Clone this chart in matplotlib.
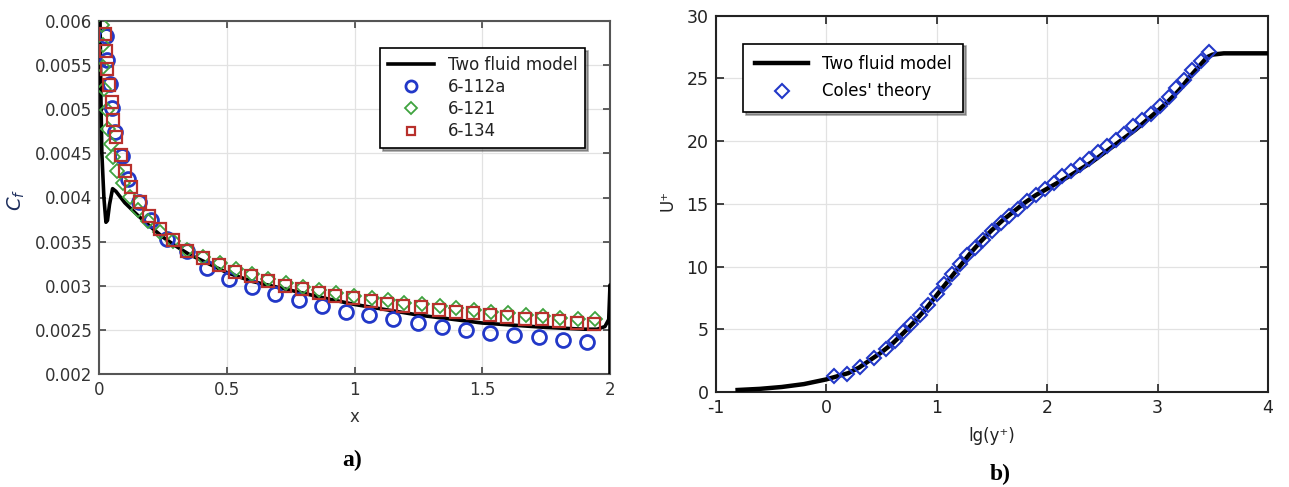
import matplotlib
matplotlib.use("Agg")
import matplotlib.pyplot as plt

# ---------------- panel a) data ----------------
model_a_x = [0.000, 0.003, 0.006, 0.010, 0.018, 0.026, 0.032, 0.040, 0.052, 0.065, 0.10, 0.15, 0.20, 0.25,
             0.30, 0.35, 0.40, 0.50, 0.60, 0.75, 0.90, 1.00, 1.25, 1.50, 1.75, 1.90, 1.95, 1.98, 1.995, 2.000, 2.000]
model_a_y = [0.0062, 0.0060, 0.0052, 0.0045, 0.0040, 0.00372, 0.00374, 0.00392, 0.00410, 0.00407, 0.00394,
             0.00380, 0.00367, 0.00355, 0.00345, 0.00336, 0.00329, 0.00315, 0.00305, 0.00295, 0.00285,
             0.00279, 0.00267, 0.00258, 0.00253, 0.00251, 0.00251, 0.00254, 0.00262, 0.00301, 0.00200]

c112_x = [0.026, 0.031, 0.042, 0.051, 0.061, 0.088, 0.114, 0.157, 0.203, 0.266, 0.343, 0.420, 0.509, 0.598,
          0.687, 0.781, 0.873, 0.966, 1.058, 1.152, 1.247, 1.341, 1.437, 1.532, 1.626, 1.720, 1.815, 1.910]
c112_y = [0.00583, 0.00556, 0.00528, 0.00501, 0.00474, 0.00447, 0.00421, 0.00395, 0.00375, 0.00353, 0.00339,
          0.00320, 0.00308, 0.00299, 0.00291, 0.00284, 0.00277, 0.00271, 0.00267, 0.00262, 0.00258, 0.00254,
          0.00250, 0.00247, 0.00245, 0.00242, 0.00239, 0.00236]

c121_x = [0.009, 0.013, 0.016, 0.020, 0.029, 0.035, 0.045, 0.055, 0.071, 0.094, 0.120, 0.153, 0.192, 0.238,
          0.290, 0.345, 0.408, 0.472, 0.535, 0.598, 0.661, 0.731, 0.797, 0.861, 0.927, 0.997, 1.067, 1.130,
          1.193, 1.263, 1.333, 1.397, 1.467, 1.534, 1.600, 1.670, 1.736, 1.803, 1.873, 1.940]
c121_y = [0.00595, 0.00572, 0.00548, 0.00523, 0.00499, 0.00478, 0.00461, 0.00446, 0.00430, 0.00416, 0.00401,
          0.00386, 0.00373, 0.00361, 0.00351, 0.00341, 0.00333, 0.00326, 0.00319, 0.00313, 0.00308, 0.00303,
          0.00299, 0.00295, 0.00292, 0.00289, 0.00286, 0.00284, 0.00281, 0.00279, 0.00277, 0.00275, 0.00273,
          0.00271, 0.00269, 0.00267, 0.00266, 0.00264, 0.00263, 0.00262]

c134_x = [0.022, 0.026, 0.031, 0.038, 0.049, 0.055, 0.065, 0.084, 0.101, 0.123, 0.159, 0.196, 0.238, 0.290,
          0.343, 0.406, 0.470, 0.533, 0.596, 0.659, 0.729, 0.795, 0.859, 0.925, 0.995, 1.065, 1.128, 1.191,
          1.261, 1.331, 1.395, 1.465, 1.532, 1.598, 1.668, 1.734, 1.801, 1.871, 1.938]
c134_y = [0.00585, 0.00566, 0.00545, 0.00527, 0.00508, 0.00488, 0.00469, 0.00448, 0.00430, 0.00412, 0.00395,
          0.00379, 0.00364, 0.00352, 0.00339, 0.00332, 0.00324, 0.00316, 0.00311, 0.00306, 0.00300, 0.00296,
          0.00292, 0.00289, 0.00286, 0.00283, 0.00280, 0.00277, 0.00276, 0.00273, 0.00271, 0.00269, 0.00267,
          0.00265, 0.00263, 0.00262, 0.00260, 0.00258, 0.00257]

xticks_a = [0, 0.5, 1, 1.5, 2]
xticklabels_a = ["0", "0.5", "1", "1.5", "2"]
yticks_a = [0.002, 0.0025, 0.003, 0.0035, 0.004, 0.0045, 0.005, 0.0055, 0.006]
yticklabels_a = ["0.002", "0.0025", "0.003", "0.0035", "0.004", "0.0045", "0.005", "0.0055", "0.006"]

# ---------------- panel b) data ----------------
model_b_x = [-0.8, -0.6, -0.4, -0.2, 0.0, 0.1, 0.2, 0.3, 0.4, 0.5, 0.6, 0.7, 0.8, 0.9, 1.0, 1.1, 1.2, 1.3,
             1.4, 1.5, 1.6, 1.7, 1.8, 1.9, 2.0, 2.2, 2.4, 2.6, 2.8, 3.0, 3.1, 3.2, 3.3, 3.4, 3.45, 3.5, 3.6,
             3.8, 4.0]
model_b_y = [0.16, 0.25, 0.40, 0.63, 1.0, 1.25, 1.5, 1.95, 2.55, 3.15, 3.85, 4.7, 5.6, 6.6, 7.7, 8.8, 9.9,
             11.0, 12.0, 12.9, 13.7, 14.4, 15.1, 15.7, 16.2, 17.2, 18.3, 19.6, 20.9, 22.4, 23.2, 24.1, 25.2,
             26.2, 26.7, 26.9, 27.0, 27.0, 27.0]

coles_x = [0.07, 0.19, 0.31, 0.43, 0.54, 0.62, 0.70, 0.77, 0.85, 0.92, 1.00, 1.07, 1.14, 1.21, 1.28, 1.35,
           1.42, 1.50, 1.58, 1.66, 1.74, 1.82, 1.90, 1.98, 2.06, 2.14, 2.22, 2.30, 2.38, 2.46, 2.54, 2.62,
           2.70, 2.78, 2.86, 2.94, 3.02, 3.10, 3.17, 3.24, 3.31, 3.39, 3.47]
coles_y = [1.25, 1.45, 2.0, 2.7, 3.4, 4.05, 4.75, 5.4, 6.15, 6.9, 7.8, 8.6, 9.4, 10.2, 10.9, 11.5, 12.1,
           12.8, 13.5, 14.0, 14.6, 15.2, 15.7, 16.2, 16.7, 17.2, 17.6, 18.1, 18.6, 19.1, 19.6, 20.1, 20.6,
           21.2, 21.7, 22.2, 22.8, 23.5, 24.2, 24.9, 25.7, 26.4, 27.1]

xticks_b = [-1, 0, 1, 2, 3, 4]
xticklabels_b = ["-1", "0", "1", "2", "3", "4"]
yticks_b = [0, 5, 10, 15, 20, 25, 30]

plt.rcParams['font.family'] = ['DejaVu Sans']
plt.rcParams['axes.unicode_minus'] = False
W, H = 1289, 487
fig = plt.figure(figsize=(W / 100, H / 100), dpi=100)

def px_axes(l, r, t, b):
    return fig.add_axes([l / W, 1 - b / H, (r - l) / W, (b - t) / H])

tick_col = '#333333'

# ---------------- panel a ----------------
ax1 = px_axes(99.3, 610, 20.7, 374.3)
ax1.plot(model_a_x, model_a_y, color='black', lw=2.6, label='Two fluid model', zorder=3, solid_joinstyle='round')
ax1.plot(c112_x, c112_y, 'o', mfc='none', mec='#2238c8', mew=2.0, ms=10, label='6-112a', zorder=4)
ax1.plot(c121_x, c121_y, 'D', mfc='none', mec='#3fa33f', mew=1.3, ms=7.5, label='6-121', zorder=4)
ax1.plot(c134_x, c134_y, 's', mfc='none', mec='#b8302c', mew=1.6, ms=8, label='6-134', zorder=5)
ax1.set_xlim(0, 2)
ax1.set_ylim(0.002, 0.006)
ax1.set_xticks(xticks_a)
ax1.set_xticklabels(xticklabels_a)
ax1.set_yticks(yticks_a)
ax1.set_yticklabels(yticklabels_a)
ax1.grid(True, color='#e2e2e2', lw=0.9)
ax1.set_axisbelow(True)
ax1.tick_params(direction='in', top=True, right=True, length=5, width=1.2, labelsize=12,
                colors='#444444', labelcolor=tick_col, pad=5)
for s in ax1.spines.values():
    s.set_color('#555555')
    s.set_linewidth(1.5)
ax1.set_xlabel('x', fontsize=12, color=tick_col, labelpad=6)
fig.text(16 / W, 1 - 200 / H, r'$C_f$', rotation=90, ha='center', va='center', fontsize=14, color='#1c2d5c')
leg1 = ax1.legend(loc='upper right', bbox_to_anchor=(0.967, 0.945), fontsize=12, frameon=True,
                  fancybox=False, shadow=True, edgecolor='black', framealpha=1, handlelength=2.8,
                  borderpad=0.45, labelspacing=0.25, handletextpad=0.8, markerscale=0.8)
leg1.get_frame().set_linewidth(1.2)
for t in leg1.get_texts():
    t.set_color('#222222')
fig.text(352 / W, 1 - 460 / H, 'a)', ha='center', va='center', fontsize=17, fontweight='bold',
         family='Liberation Serif')

# ---------------- panel b ----------------
ax2 = px_axes(715.5, 1268, 15.7, 392)
ax2.plot(model_b_x, model_b_y, color='black', lw=3.2, label='Two fluid model', zorder=3)
ax2.plot(coles_x, coles_y, 'D', mfc='none', mec='#2238c8', mew=1.5, ms=7, label="Coles' theory", zorder=4)
ax2.set_xlim(-1, 4)
ax2.set_ylim(0, 30)
ax2.set_xticks(xticks_b)
ax2.set_xticklabels(xticklabels_b)
ax2.set_yticks(yticks_b)
ax2.grid(True, color='#e2e2e2', lw=0.9)
ax2.set_axisbelow(True)
ax2.tick_params(direction='in', top=True, right=True, length=6, width=1.2, labelsize=12.5,
                colors='#222222', labelcolor='#222222', pad=5)
for s in ax2.spines.values():
    s.set_color('#222222')
    s.set_linewidth(1.5)
ax2.set_xlabel('lg(y\u207a)', fontsize=12, color='#222222')
ax2.xaxis.set_label_coords(0.5, -(427 - 392) / 376.3)
ax2.set_ylabel('U\u207a', fontsize=12, color='#222222')
ax2.yaxis.set_label_coords(-(715.5 - 676) / 552.5, (392 - 200) / 376.3)
leg2 = ax2.legend(loc='upper left', bbox_to_anchor=(0.035, 0.948), fontsize=12, frameon=True,
                  fancybox=False, shadow=True, edgecolor='black', framealpha=1, handlelength=3.2,
                  borderpad=0.7, labelspacing=0.55, handletextpad=0.8)
leg2.get_frame().set_linewidth(1.2)
fig.text(1000 / W, 1 - 474 / H, 'b)', ha='center', va='center', fontsize=17, fontweight='bold',
         family='Liberation Serif')

fig.savefig('out.png', dpi=100)
